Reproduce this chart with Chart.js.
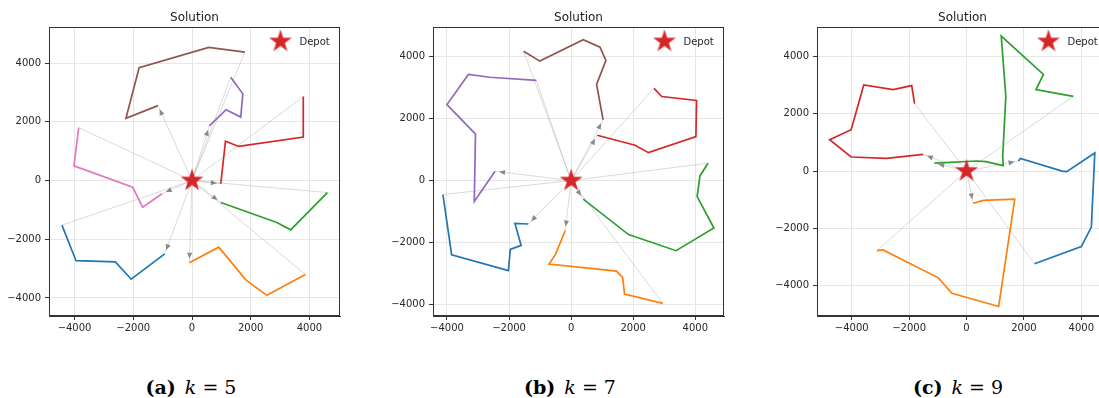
<!DOCTYPE html>
<html>
<head>
<meta charset="utf-8">
<script src="https://cdn.jsdelivr.net/npm/chart.js@4.4.1/dist/chart.umd.min.js"></script>
<style>
  html, body { margin: 0; padding: 0; background: #fff; }
  body { width: 1099px; height: 398px; overflow: hidden; position: relative; }
  canvas { position: absolute; top: 0; }
  .cap { position: absolute; top: 376px; width: 200px; text-align: center;
         font-family: "DejaVu Serif", "Liberation Serif", serif; font-size: 19px; color: #000; }
  .cap b { font-weight: bold; margin-right: 9px; }
</style>
</head>
<body>
<canvas id="chartA" width="360" height="340" style="left:0px"></canvas>
<canvas id="chartB" width="360" height="340" style="left:384px"></canvas>
<canvas id="chartC" width="360" height="340" style="left:768px"></canvas>
<div class="cap" style="left:91px"><b>(a)</b><i>k</i> = 5</div>
<div class="cap" style="left:470px"><b>(b)</b><i>k</i> = 7</div>
<div class="cap" style="left:858px"><b>(c)</b><i>k</i> = 9</div>

<script>
// tick values shared by every panel
const tickValues = [-4000, -2000, 0, 2000, 4000];
const depot = [0, 0];

// (a) k = 5 -- routes in drawing order
const aBlue   = [[-930,-2500],[-2070,-3360],[-2610,-2770],[-3950,-2730],[-4430,-1520]];
const aOrange = [[-90,-2800],[910,-2270],[1840,-3390],[2550,-3910],[3860,-3200]];
const aGreen  = [[980,-750],[2890,-1430],[3360,-1680],[4610,-410]];
const aRed    = [[980,-110],[1140,1340],[1590,1160],[3790,1480],[3790,2860]];
const aPurple = [[590,1860],[1160,2410],[1660,2160],[1730,2950],[1320,3520]];
const aBrown  = [[-1160,2550],[-2250,2120],[-1800,3840],[570,4530],[1800,4370]];
const aPink   = [[-1020,-450],[-1680,-910],[-2020,-230],[-4020,500],[-3860,1800]];
const aXRange = [-4870, 5040];
const aYRange = [-4613, 5227];

// (b) k = 7
const bBlue   = [[-1380,-1400],[-1810,-1380],[-1610,-2090],[-1960,-2220],[-2020,-2900],[-3850,-2390],[-4130,-450]];
const bOrange = [[-190,-1610],[-500,-2370],[-710,-2690],[1460,-2920],[1660,-3120],[1720,-3660],[2950,-3960]];
const bGreen  = [[390,-600],[1850,-1740],[3380,-2260],[4600,-1530],[4060,-520],[4150,150],[4410,560]];
const bRed    = [[840,1460],[2060,1140],[2490,900],[4020,1420],[4040,2580],[2920,2710],[2670,2970]];
const bPurple = [[-2450,300],[-3120,-670],[-3080,1500],[-4000,2450],[-3310,3420],[-2620,3330],[-1120,3230]];
const bBrown  = [[1030,1960],[820,3100],[1120,3870],[930,4300],[390,4540],[-1010,3850],[-1530,4170]];
const bXRange = [-4450, 4925];
const bYRange = [-4365, 4950];

// (c) k = 9
const cBlue   = [[1810,350],[1880,440],[3330,0],[3490,-20],[4470,630],[4350,-1950],[4000,-2630],[2370,-3230]];
const cOrange = [[230,-1120],[580,-1020],[1680,-980],[1120,-4720],[-510,-4260],[-980,-3720],[-2910,-2750],[-3120,-2770]];
const cGreen  = [[-1120,280],[350,350],[680,330],[1280,190],[1260,510],[1370,2600],[1210,4700],[2680,3370],[2420,2840],[3720,2600]];
const cRed    = [[-1510,580],[-2790,440],[-4020,490],[-4770,1090],[-4020,1440],[-3580,3000],[-2560,2840],[-1910,2980],[-1810,2350]];
const cXRange = [-5210, 4930];
const cYRange = [-5050, 5020];

// matplotlib tab10
const tab10 = ['#1f77b4', '#ff7f0e', '#2ca02c', '#d62728', '#9467bd', '#8c564b', '#e377c2'];
const legColor = 'rgba(150,150,150,0.45)';

// filled star used as the depot marker
function makeStar(R) {
    const c = document.createElement('canvas');
    const s = Math.ceil(R * 2 + 2);
    c.width = s; c.height = s;
    const g = c.getContext('2d');
    const r = R * 0.382;
    g.beginPath();
    for (let i = 0; i < 10; i++) {
        const rad = i % 2 === 0 ? R : r;
        const a = -Math.PI / 2 + i * Math.PI / 5;
        const px = s / 2 + rad * Math.cos(a), py = s / 2 + rad * Math.sin(a);
        if (i === 0) g.moveTo(px, py); else g.lineTo(px, py);
    }
    g.closePath();
    g.fillStyle = '#d62728';
    g.fill();
    return c;
}
const starImg = makeStar(12);

const toXY = p => ({ x: p[0], y: p[1] });
const fmt = v => (v < 0 ? '\u2212' + Math.abs(v) : String(v));

const decor = {
    id: 'decor',
    afterDatasetsDraw(chart) {
        const { ctx, chartArea: ca, scales } = chart;
        const xs = scales.x, ys = scales.y;
        const routes = chart.options.plugins.decor.routes;
        const d = { x: xs.getPixelForValue(depot[0]), y: ys.getPixelForValue(depot[1]) };
        ctx.save();
        // arrow heads on the legs leaving the depot
        ctx.fillStyle = '#8a8a8a';
        routes.forEach(r => {
            const p = { x: xs.getPixelForValue(r[0][0]), y: ys.getPixelForValue(r[0][1]) };
            const len = Math.hypot(p.x - d.x, p.y - d.y);
            const ux = (p.x - d.x) / len, uy = (p.y - d.y) / len;
            const tx = p.x - ux * 4, ty = p.y - uy * 4;
            const bx = tx - ux * 6, by = ty - uy * 6;
            ctx.beginPath();
            ctx.moveTo(tx, ty);
            ctx.lineTo(bx - uy * 2.6, by + ux * 2.6);
            ctx.lineTo(bx + uy * 2.6, by - ux * 2.6);
            ctx.closePath();
            ctx.fill();
        });
        // frame
        ctx.strokeStyle = '#333';
        ctx.lineWidth = 1;
        ctx.strokeRect(Math.round(ca.left) + 0.5, Math.round(ca.top) + 0.5,
                       Math.round(ca.right - ca.left) - 1, Math.round(ca.bottom - ca.top) - 1);
        // title
        ctx.fillStyle = '#1a1a1a';
        ctx.font = '12px "DejaVu Sans"';
        ctx.textAlign = 'center';
        ctx.textBaseline = 'alphabetic';
        ctx.fillText('Solution', (ca.left + ca.right) / 2, 20.5);
        // legend
        ctx.drawImage(starImg, ca.right - 59.5 - starImg.width / 2, ca.top + 14.5 - starImg.height / 2);
        ctx.font = '10px "DejaVu Sans"';
        ctx.textAlign = 'left';
        ctx.fillStyle = '#262626';
        ctx.fillText('Depot', ca.right - 40.5, ca.top + 17.5);
        ctx.restore();
    }
};

function axis(range, isX) {
    return {
        type: 'linear',
        min: range[0],
        max: range[1],
        afterBuildTicks: s => { s.ticks = tickValues.map(v => ({ value: v })); },
        afterFit: s => { if (isX) s.height = 24; else s.width = 49; },
        ticks: {
            callback: v => fmt(v),
            font: { family: 'DejaVu Sans', size: 10 },
            color: '#262626',
            padding: isX ? 2 : 4,
            maxRotation: 0,
            autoSkip: false
        },
        grid: { color: '#e6e6e6', lineWidth: 1, tickColor: '#333', tickLength: 4 },
        border: { color: '#333', width: 1 }
    };
}

function makePanel(id, routes, xRange, yRange) {
    const datasets = [{
        data: [toXY(depot)],
        pointStyle: starImg,
        pointRadius: 12,
        showLine: false
    }];
    routes.forEach((r, i) => {
        datasets.push({
            data: r.map(toXY),
            showLine: true,
            borderColor: tab10[i],
            borderWidth: 1.7,
            pointRadius: 0,
            tension: 0
        });
    });
    routes.forEach(r => {
        datasets.push({ data: [toXY(depot), toXY(r[0])], showLine: true, borderColor: legColor, borderWidth: 0.8, pointRadius: 0 });
        datasets.push({ data: [toXY(r[r.length - 1]), toXY(depot)], showLine: true, borderColor: legColor, borderWidth: 0.8, pointRadius: 0 });
    });
    new Chart(document.getElementById(id), {
        type: 'scatter',
        data: { datasets: datasets },
        options: {
            responsive: false,
            animation: false,
            devicePixelRatio: 1,
            layout: { padding: { top: 27, right: 20, left: 0, bottom: 0 } },
            scales: { x: axis(xRange, true), y: axis(yRange, false) },
            plugins: {
                legend: { display: false },
                tooltip: { enabled: false },
                decor: { routes: routes }
            }
        },
        plugins: [decor]
    });
}

makePanel('chartA', [aBlue, aOrange, aGreen, aRed, aPurple, aBrown, aPink], aXRange, aYRange);
makePanel('chartB', [bBlue, bOrange, bGreen, bRed, bPurple, bBrown], bXRange, bYRange);
makePanel('chartC', [cBlue, cOrange, cGreen, cRed], cXRange, cYRange);
</script>
</body>
</html>
